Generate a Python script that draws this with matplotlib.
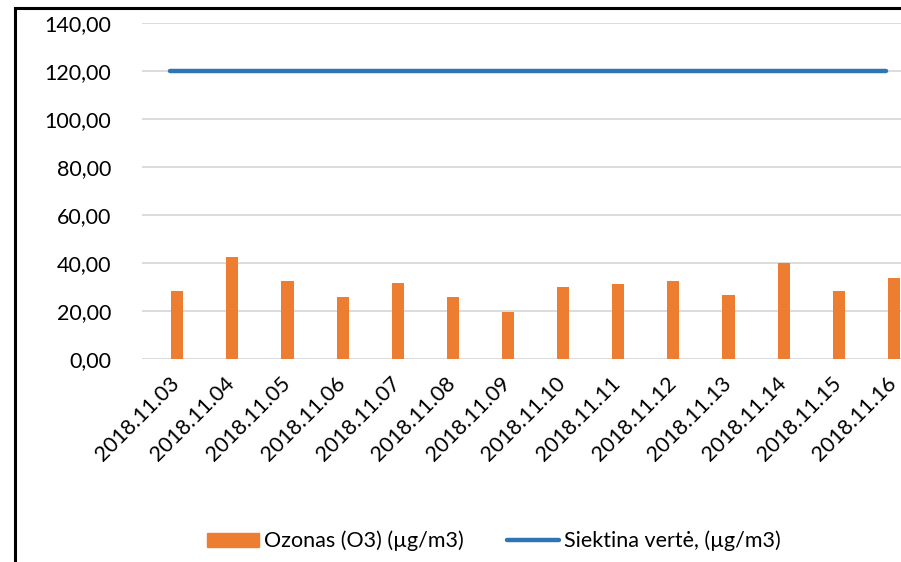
import matplotlib.pyplot as plt
from matplotlib.lines import Line2D
from matplotlib.patches import Patch
import numpy as np

dates = ["2018.11.03", "2018.11.04", "2018.11.05", "2018.11.06", "2018.11.07",
         "2018.11.08", "2018.11.09", "2018.11.10", "2018.11.11", "2018.11.12",
         "2018.11.13", "2018.11.14", "2018.11.15", "2018.11.16"]
ozone = [28.3, 42.3, 32.5, 25.8, 31.8, 25.8, 19.7, 30.2, 31.4, 32.6,
         26.6, 39.8, 28.5, 33.7]
target = [120.0] * len(dates)

plt.rcParams['font.family'] = ['Lato', 'DejaVu Sans']
fs = 15.5

fig = plt.figure(figsize=(9.01, 5.62), dpi=100)
ax = fig.add_axes([142/901, 1 - 359/562, 1 - 142/901, (359 - 23)/562])

x = np.arange(len(dates))
ax.bar(x + 0.14, ozone, width=0.22, color='#ED7D31', zorder=2)
ax.plot(x, target, color='#2E75B6', lw=3.2, solid_capstyle='round', zorder=3)

ax.set_xlim(-0.5, 13.27)
ax.set_ylim(0, 140)
ax.set_yticks(np.arange(0, 141, 20))
ax.set_yticklabels([f"{v:.2f}".replace('.', ',') for v in np.arange(0, 141, 20)])
ax.set_xticks(x)
ax.set_xticklabels(dates, rotation=45, ha='right', va='top', rotation_mode='anchor')
ax.tick_params(axis='both', length=0, labelsize=fs, colors='black')
ax.tick_params(axis='y', pad=22)
ax.tick_params(axis='x', pad=10)
ax.grid(axis='y', color='#D9D9D9', lw=1.3, zorder=0)
for s in ax.spines.values():
    s.set_visible(False)

handles = [Patch(color='#ED7D31'),
           Line2D([0], [0], color='#2E75B6', lw=3.2, solid_capstyle='round')]
labels = ["Ozonas (O3) (µg/m3)", "Siektina vertė, (µg/m3)"]
fig.legend(handles, labels, loc='center', bbox_to_anchor=(494/901, 1 - 541/562),
           ncol=2, frameon=False, fontsize=fs, handlelength=2.4,
           handletextpad=0.25, columnspacing=2.0, handleheight=0.6)

# outer chart border (cropped)
fig.add_artist(Line2D([15/901, 15/901], [0, 1 - 8/562], color='black', lw=2.2,
                      transform=fig.transFigure))
fig.add_artist(Line2D([15/901, 1], [1 - 8/562, 1 - 8/562], color='black', lw=2.2,
                      transform=fig.transFigure))

fig.savefig("out.png", dpi=100)
